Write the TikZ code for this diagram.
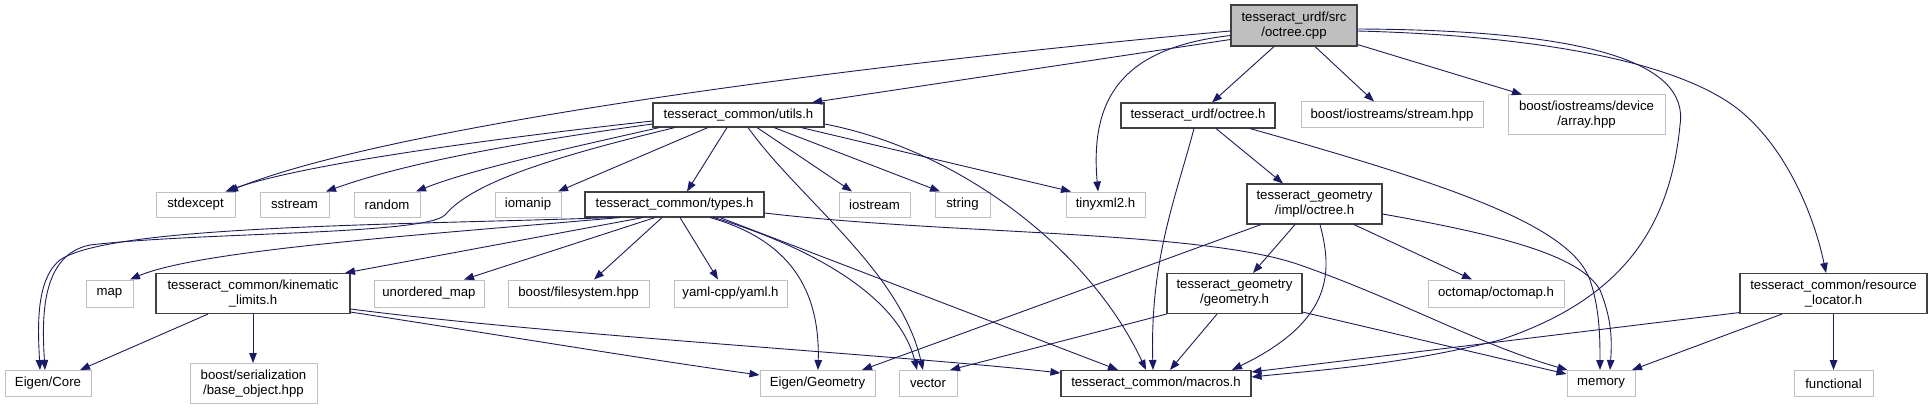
\documentclass[tikz,border=0pt]{standalone}
\usepackage{fontspec}
\setmainfont{Liberation Sans}
\usetikzlibrary{arrows.meta,calc}
\definecolor{edgecol}{HTML}{191970}
\definecolor{docborder}{HTML}{404040}
\definecolor{extborder}{HTML}{BFBFBF}
\definecolor{rootfill}{HTML}{BFBFBF}
\begin{document}
\begin{tikzpicture}[x=1pt,y=-1pt,
  every node/.style={font=\fontsize{13.2}{15}\selectfont, inner sep=0pt, align=center},
  doc/.style={draw=docborder, fill=white, line width=1.1pt, rectangle},
  ext/.style={draw=extborder, fill=white, line width=1pt, rectangle},
  rootbox/.style={draw=docborder, fill=rootfill, line width=1.1pt, rectangle},
  one/.style={minimum height=26pt},
  two/.style={minimum height=40pt},
  dep/.style={draw=edgecol, line width=0.9pt, -{Triangle[length=10pt,width=7.5pt]}, fill=none}
]
\useasboundingbox (0,0) rectangle (1932,409);

% row 1
\node[rootbox, two, minimum width=126pt, minimum height=41pt] (root) at (1294,25.5) {tesseract\_urdf/src\\/octree.cpp};
% row 2
\node[doc, minimum width=171pt, minimum height=24pt] (utils) at (738.5,115) {tesseract\_common/utils.h};
\node[doc, minimum width=154pt, minimum height=25pt] (uoct) at (1198,115.5) {tesseract\_urdf/octree.h};
\node[ext, one, minimum width=182pt] (stream) at (1392,115) {boost/iostreams/stream.hpp};
\node[ext, two, minimum width=157pt] (array) at (1586.5,115) {boost/iostreams/device\\/array.hpp};
% row 3
\node[ext, minimum height=25pt, minimum width=79pt] (stdexcept) at (195.5,204.5) {stdexcept};
\node[ext, minimum height=25pt, minimum width=69pt] (sstream) at (294.5,204.5) {sstream};
\node[ext, minimum height=25pt, minimum width=66pt] (random) at (387,204.5) {random};
\node[ext, minimum height=25pt, minimum width=66pt] (iomanip) at (528,204.5) {iomanip};
\node[doc, minimum height=25pt, minimum width=179pt] (types) at (674.5,204.5) {tesseract\_common/types.h};
\node[ext, minimum height=25pt, minimum width=71pt] (iostream) at (874.5,204.5) {iostream};
\node[ext, minimum height=25pt, minimum width=55pt] (string) at (962.5,204.5) {string};
\node[ext, minimum height=25pt, minimum width=79pt] (tinyxml) at (1105.5,204.5) {tinyxml2.h};
\node[doc, two, minimum width=135pt] (ioct) at (1314.5,204) {tesseract\_geometry\\/impl/octree.h};
% row 4
\node[ext, minimum height=27pt, minimum width=47pt] (map) at (109.5,293.5) {map};
\node[doc, two, minimum width=194pt] (kin) at (253,293.5) {tesseract\_common/kinematic\\\_limits.h};
\node[ext, minimum height=27pt, minimum width=110pt] (umap) at (429,293.5) {unordered\_map};
\node[ext, minimum height=27pt, minimum width=141pt] (fs) at (578.5,293.5) {boost/filesystem.hpp};
\node[ext, minimum height=27pt, minimum width=113pt] (yaml) at (730.5,293.5) {yaml-cpp/yaml.h};
\node[doc, two, minimum width=135pt] (geom) at (1234.5,293.5) {tesseract\_geometry\\/geometry.h};
\node[ext, minimum height=27pt, minimum width=136pt] (octomap) at (1496,293.5) {octomap/octomap.h};
\node[doc, two, minimum width=187pt] (res) at (1833.5,293.5) {tesseract\_common/resource\\\_locator.h};
% row 5
\node[ext, one, minimum width=86pt] (ecore) at (48,383.5) {Eigen/Core};
\node[ext, two, minimum width=127pt] (base) at (253.5,383.5) {boost/serialization\\/base\_object.hpp};
\node[ext, one, minimum width=115pt] (egeom) at (817.5,383.5) {Eigen/Geometry};
\node[ext, one, minimum width=58pt] (vector) at (928,383.5) {vector};
\node[doc, one, minimum width=190pt] (macros) at (1156,383.5) {tesseract\_common/macros.h};
\node[ext, one, minimum width=68pt] (memory) at (1601,383.5) {memory};
\node[ext, one, minimum width=79pt] (functional) at (1833.5,383.5) {functional};

% root edges
\draw[dep] ($(root.west)+(0,5.5)$) .. controls (800,70) and (380,130) .. ($(stdexcept.north)+(32.5,0)$);
\draw[dep] ($(root.west)+(0,14)$) -- ($(utils.north)+(73.5,0)$);
\draw[dep] ($(root.west)+(0,10)$) .. controls (1120,48) and (1090,100) .. ($(tinyxml.north)+(-7.5,0)$);
\draw[dep] ($(root.south)+(-20,0)$) -- ($(uoct.north)+(14,0)$);
\draw[dep] ($(root.south)+(21,0)$) -- ($(stream.north)+(-18,0)$);
\draw[dep] ($(root.south east)+(0,-2)$) -- ($(array.north)+(-64.5,0)$);
\draw[dep] ($(root.east)+(0,3.5)$) .. controls (1580,30) and (1690,60) .. (1680,125)
   .. controls (1670,230) and (1620,300) .. (1500,340)
   .. controls (1400,365) and (1320,370) .. ($(macros.east)+(0,-6.5)$);
\draw[dep] ($(root.east)+(0,5.5)$) .. controls (1550,36) and (1690,65) .. (1745,115)
   .. controls (1790,155) and (1815,220) .. ($(res.north)+(-7.5,0)$);

% utils edges
\draw[dep] ($(utils.west)+(0,6)$) .. controls (480,140) and (300,165) .. ($(stdexcept.north)+(30,0)$);
\draw[dep] ($(utils.west)+(0,9)$) .. controls (500,145) and (400,165) .. ($(sstream.north)+(31.5,0)$);
\draw[dep] ($(utils.south west)+(7,0)$) .. controls (560,150) and (470,170) .. ($(random.north)+(29,0)$);
\draw[dep] ($(utils.south)+(-63.5,0)$) .. controls (540,160) and (470,185) .. (445,215)
   .. controls (425,235) and (200,232) .. (90,245)
   .. controls (40,255) and (42,320) .. ($(ecore.north)+(-3,0)$);
\draw[dep] ($(utils.south)+(-30.5,0)$) -- ($(iomanip.north)+(30,0)$);
\draw[dep] ($(utils.south)+(-11.5,0)$) -- ($(types.north)+(12.5,0)$);
\draw[dep] ($(utils.south)+(9.5,0)$) .. controls (800,200) and (900,270) .. ($(vector.north)+(-5,0)$);
\draw[dep] ($(utils.south)+(18.5,0)$) -- ($(iostream.north)+(-22.5,0)$);
\draw[dep] ($(utils.south)+(35.5,0)$) -- ($(string.north)+(-22.5,0)$);
\draw[dep] ($(utils.south)+(62.5,0)$) -- ($(tinyxml.north)+(-34.5,0)$);
\draw[dep] ($(utils.east)+(0,9)$) .. controls (960,150) and (1090,250) .. ($(macros.north)+(-10,0)$);

% types edges
\draw[dep] ($(types.south)+(-54.5,0)$) .. controls (420,235) and (200,250) .. ($(map.north)+(20.5,0)$);
\draw[dep] ($(types.south)+(-61.5,0)$) .. controls (400,225) and (110,225) .. (60,260)
   .. controls (35,280) and (38,330) .. ($(ecore.north)+(-8,0)$);
\draw[dep] ($(types.south)+(-31.5,0)$) -- ($(kin.north)+(92,0)$);
\draw[dep] ($(types.south)+(-19.5,0)$) -- ($(umap.north)+(35,0)$);
\draw[dep] ($(types.south)+(-12.5,0)$) -- ($(fs.north)+(15.5,0)$);
\draw[dep] ($(types.south)+(5.5,0)$) -- ($(yaml.north)+(-12.5,0)$);
\draw[dep] ($(types.south)+(35.5,0)$) .. controls (790,240) and (820,290) .. ($(egeom.north)+(0.5,0)$);
\draw[dep] ($(types.south)+(39.5,0)$) .. controls (820,250) and (900,300) .. ($(vector.north)+(-11,0)$);
\draw[dep] ($(types.south)+(45.5,0)$) -- ($(macros.north)+(-38,0)$);
\draw[dep] ($(types.east)+(0,8.5)$) .. controls (950,235) and (1200,230) .. (1300,265)
   .. controls (1400,300) and (1480,345) .. ($(memory.north west)+(1,0)$);

% kinematic_limits edges
\draw[dep] ($(kin.south)+(-45,0)$) -- ($(ecore.north)+(32,0)$);
\draw[dep] (kin.south) -- (kin.south |- base.north);
\draw[dep] ($(kin.south east)+(0,-2)$) .. controls (500,335) and (650,360) .. ($(egeom.west)+(0,-8.5)$);
\draw[dep] ($(kin.east)+(0,15.5)$) .. controls (550,335) and (900,355) .. ($(macros.west)+(0,-10.5)$);

% urdf/octree.h edges
\draw[dep] ($(uoct.south)+(18,0)$) -- ($(ioct.north)+(-31.5,0)$);
\draw[dep] ($(uoct.south)+(-4,0)$) .. controls (1175,200) and (1150,260) .. ($(macros.north)+(-3,0)$);
\draw[dep] ($(uoct.south)+(52,0)$) .. controls (1450,185) and (1570,225) .. (1590,280)
   .. controls (1600,310) and (1600,340) .. ($(memory.north)+(-1,0)$);

% impl/octree.h edges
\draw[dep] ($(ioct.south)+(-53.5,0)$) -- ($(egeom.north)+(44.5,0)$);
\draw[dep] ($(ioct.south)+(-19.5,0)$) -- ($(geom.north)+(18.5,0)$);
\draw[dep] ($(ioct.south)+(5.5,0)$) .. controls (1332,270) and (1335,320) .. ($(macros.north)+(76,0)$);
\draw[dep] ($(ioct.south)+(39.5,0)$) -- ($(octomap.north)+(-24,0)$);
\draw[dep] ($(ioct.east)+(0,10)$) .. controls (1500,235) and (1580,255) .. (1600,290)
   .. controls (1612,320) and (1612,340) .. ($(memory.north)+(9,0)$);

% geometry.h edges
\draw[dep] (geom.south west) -- ($(vector.north)+(22,0)$);
\draw[dep] ($(geom.south)+(-17.5,0)$) -- ($(macros.north)+(14,0)$);
\draw[dep] ($(geom.south east)+(0,-2)$) -- ($(memory.west)+(0,-9.5)$);

% resource_locator edges
\draw[dep] ($(res.south west)+(0,-1.5)$) -- ($(macros.east)+(0,-11.5)$);
\draw[dep] ($(res.south)+(-51.5,0)$) -- ($(memory.north)+(31,0)$);
\draw[dep] (res.south) -- (functional.north);
\end{tikzpicture}
\end{document}
